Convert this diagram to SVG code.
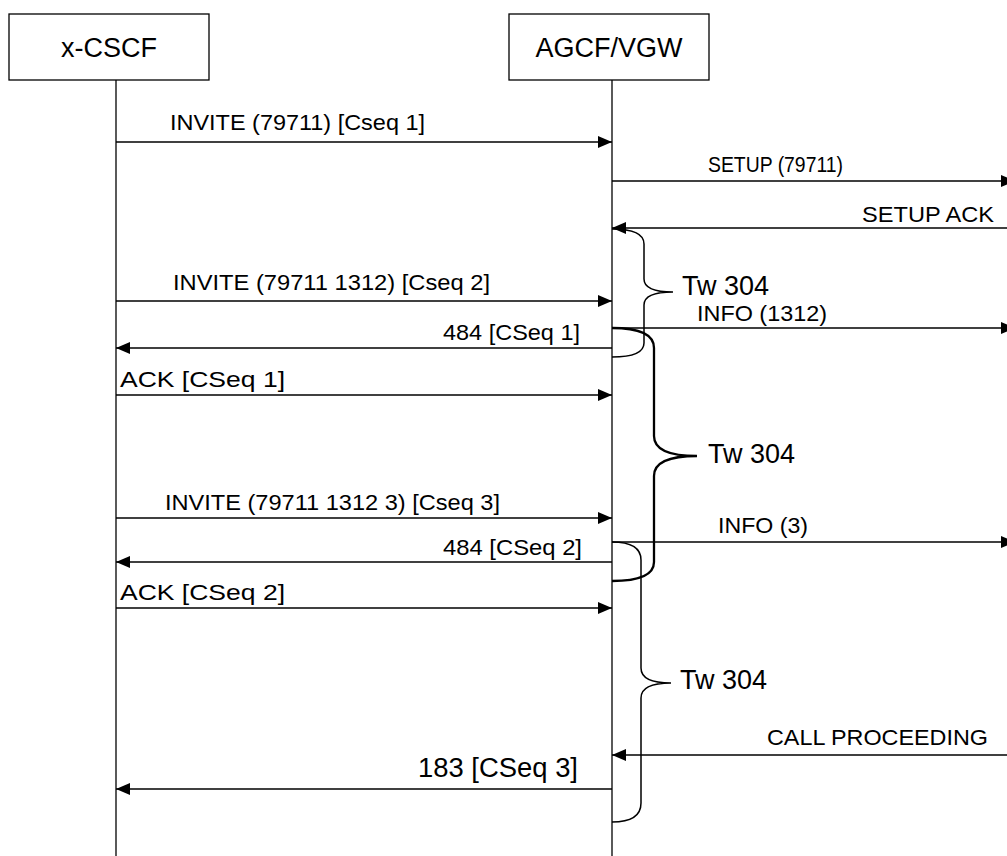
<svg xmlns="http://www.w3.org/2000/svg" width="1007" height="856" viewBox="0 0 1007 856">
<defs>
<style>
.box{fill:#fff;stroke:#000;stroke-width:1.3}
.life{stroke:#000;stroke-width:1.3;fill:none}
.msg{stroke:#000;stroke-width:1.3;fill:none;marker-end:url(#ah)}
.lbl{font-family:"Liberation Sans",Arial,sans-serif;font-size:22px;fill:#000}
.big{font-family:"Liberation Sans",Arial,sans-serif;font-size:27px;fill:#000}
.brace{fill:none;stroke:#000;stroke-width:1.5}
.brace2{fill:none;stroke:#000;stroke-width:2.3}
</style>
<marker id="ah" viewBox="0 0 14 12" refX="14" refY="6" markerWidth="14" markerHeight="12" markerUnits="userSpaceOnUse" orient="auto">
<path d="M0,0 L14,6 L0,12 Z" fill="#000"/>
</marker>
</defs>
<rect width="1007" height="856" fill="#fff"/>
<g id="node-xcscf">
<rect class="box" x="9" y="14" width="200" height="66"/>
<text class="big" x="109" y="57" text-anchor="middle">x-CSCF</text>
<line class="life" x1="116" y1="80" x2="116" y2="856"/>
</g>
<g id="node-agcf">
<rect class="box" x="509" y="14" width="200" height="66"/>
<text class="big" x="609" y="57" text-anchor="middle">AGCF/VGW</text>
<line class="life" x1="612" y1="80" x2="612" y2="856"/>
</g>
<g id="connectors">
<line class="msg" x1="116" y1="142" x2="612" y2="142"/>
<line class="msg" x1="612" y1="181" x2="1015" y2="181"/>
<line class="msg" x1="1007" y1="228" x2="612" y2="228"/>
<line class="msg" x1="116" y1="301" x2="612" y2="301"/>
<line class="msg" x1="612" y1="328" x2="1015" y2="328"/>
<line class="msg" x1="612" y1="348" x2="116" y2="348"/>
<line class="msg" x1="116" y1="395" x2="612" y2="395"/>
<line class="msg" x1="116" y1="518" x2="612" y2="518"/>
<line class="msg" x1="612" y1="542" x2="1015" y2="542"/>
<line class="msg" x1="612" y1="562" x2="116" y2="562"/>
<line class="msg" x1="116" y1="608" x2="612" y2="608"/>
<line class="msg" x1="1007" y1="755" x2="612" y2="755"/>
<line class="msg" x1="612" y1="789" x2="116" y2="789"/>
</g>
<g id="labels">
<text class="lbl" x="170" y="130" textLength="255" lengthAdjust="spacingAndGlyphs">INVITE (79711) [Cseq 1]</text>
<text class="lbl" x="708" y="172" textLength="135" lengthAdjust="spacingAndGlyphs">SETUP (79711)</text>
<text class="lbl" x="862" y="222" textLength="132" lengthAdjust="spacingAndGlyphs">SETUP ACK</text>
<text class="lbl" x="173" y="290" textLength="317" lengthAdjust="spacingAndGlyphs">INVITE (79711 1312) [Cseq 2]</text>
<text class="lbl" x="697" y="321" textLength="130" lengthAdjust="spacingAndGlyphs">INFO (1312)</text>
<text class="lbl" x="443" y="340" textLength="137" lengthAdjust="spacingAndGlyphs">484 [CSeq 1]</text>
<text class="lbl" x="120" y="387" textLength="165" lengthAdjust="spacingAndGlyphs">ACK [CSeq 1]</text>
<text class="lbl" x="165" y="510" textLength="335" lengthAdjust="spacingAndGlyphs">INVITE (79711 1312 3) [Cseq 3]</text>
<text class="lbl" x="718" y="533" textLength="90" lengthAdjust="spacingAndGlyphs">INFO (3)</text>
<text class="lbl" x="443" y="555" textLength="139" lengthAdjust="spacingAndGlyphs">484 [CSeq 2]</text>
<text class="lbl" x="120" y="600" textLength="165" lengthAdjust="spacingAndGlyphs">ACK [CSeq 2]</text>
<text class="lbl" x="767" y="745" textLength="221" lengthAdjust="spacingAndGlyphs">CALL PROCEEDING</text>
<text class="big" x="418" y="777" textLength="160" lengthAdjust="spacingAndGlyphs">183 [CSeq 3]</text>
</g>
<g id="brace1">
<path class="brace" d="M612,229 Q644,229 644,244 L644,279 Q644,292 673,292 Q644,292 644,305 L644,343 Q644,357 612,357"/>
<text class="big" x="682" y="295">Tw 304</text>
</g>
<g id="brace2">
<path class="brace2" d="M612,328 Q654,328 654,348 L654,436 Q654,456 697,456 Q654,456 654,476 L654,562 Q654,581 612,581"/>
<text class="big" x="708" y="463">Tw 304</text>
</g>
<g id="brace3">
<path class="brace" d="M612,542 Q641,542 641,560 L641,668 Q641,683 671,683 Q641,683 641,698 L641,803 Q641,822 612,822"/>
<text class="big" x="680" y="689">Tw 304</text>
</g>
</svg>
